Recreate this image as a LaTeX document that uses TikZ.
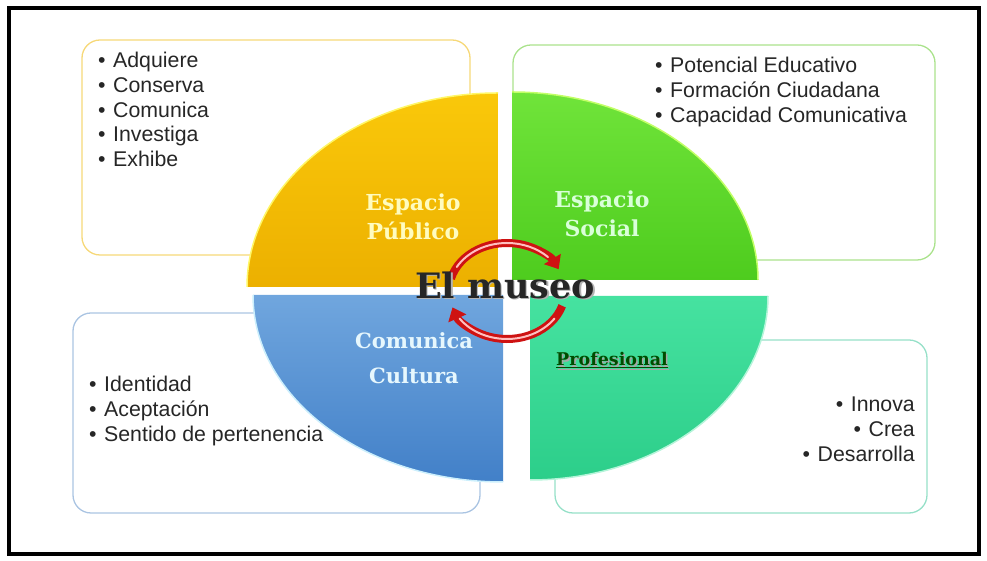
\documentclass[tikz,border=0pt]{standalone}
\usepackage{fontspec}
\setmainfont{Liberation Sans}
\newfontfamily\headfont{DejaVu Serif}
\usetikzlibrary{arrows.meta}

\definecolor{pubtop}{RGB}{250,200,10}
\definecolor{pubbot}{RGB}{236,176,0}
\definecolor{publine}{RGB}{246,216,120}
\definecolor{soctop}{RGB}{112,228,58}
\definecolor{socbot}{RGB}{78,204,30}
\definecolor{socline}{RGB}{170,226,140}
\definecolor{cultop}{RGB}{112,166,222}
\definecolor{culbot}{RGB}{66,128,200}
\definecolor{culline}{RGB}{170,196,226}
\definecolor{protop}{RGB}{70,226,160}
\definecolor{probot}{RGB}{44,206,138}
\definecolor{proline}{RGB}{150,224,200}
\definecolor{arrowred}{RGB}{206,18,18}

\newcommand\bul{\makebox[15pt][l]{•}}
% text with a soft offset copy behind it
\newcommand\dropped[2]{\rlap{\hspace{1.5pt}\raisebox{-1.5pt}{\color{#1}#2}}#2}

\begin{document}
\begin{tikzpicture}[x=1pt, y=1pt,
    itembox/.style={draw, line width=1.3pt, rounded corners=18pt, inner sep=0pt},
    item/.style={font=\fontsize{21.3}{25}\selectfont, inner sep=0pt, text=black!85},
    head/.style={font=\headfont\bfseries\fontsize{22}{29}\selectfont, align=center, inner sep=0pt},
    turn/.style={line width=8pt, draw=arrowred, -{Triangle[width=19pt,length=12pt]}},
  ]
  \useasboundingbox (0,0) rectangle (987,561);
  \draw[line width=4.5pt] (9,7) rectangle (979,553);

  % text boxes behind the quarters
  \node[itembox, draw=publine, minimum width=388pt, minimum height=215pt] (pubbox) at (276,413.5) {};
  \node[itembox, draw=socline, minimum width=422pt, minimum height=215pt] (socbox) at (724,408.5) {};
  \node[itembox, draw=culline, minimum width=407pt, minimum height=200pt] (culbox) at (276.5,148) {};
  \node[itembox, draw=proline, minimum width=372pt, minimum height=173pt] (probox) at (741,134.5) {};

  % the four quarters
  \shade[top color=pubtop, bottom color=pubbot] (498,274) -- (247,274)
    arc[start angle=180, end angle=90, x radius=251, y radius=194] -- cycle;
  \draw[line width=1.5pt, yellow!60!white] (247,274)
    arc[start angle=180, end angle=90, x radius=251, y radius=194];
  \shade[top color=soctop, bottom color=socbot] (512,281) -- (512,469)
    arc[start angle=90, end angle=0, x radius=246, y radius=188] -- cycle;
  \draw[line width=1.5pt, green!40!yellow!60!white] (512,469)
    arc[start angle=90, end angle=0, x radius=246, y radius=188];
  \shade[top color=cultop, bottom color=culbot] (503,266) -- (253,266)
    arc[start angle=180, end angle=270, x radius=250, y radius=187] -- cycle;
  \draw[line width=1.5pt, cyan!20!white] (253,266)
    arc[start angle=180, end angle=270, x radius=250, y radius=187];
  \shade[top color=protop, bottom color=probot] (530,265) -- (768,265)
    arc[start angle=0, end angle=-90, x radius=238, y radius=184] -- cycle;
  \draw[line width=1.5pt, protop!40!white] (768,265)
    arc[start angle=0, end angle=-90, x radius=238, y radius=184];

  % quarter titles
  \node[head, text=yellow!25!white] (pubhead) at (413,344) {Espacio\\Público};
  \node[head, text=green!15!white] (sochead) at (602,347) {Espacio\\Social};
  \node[head, text=cyan!10!white, font=\headfont\bfseries\fontsize{21}{35}\selectfont] (culhead) at (414,203) {Comunica\\Cultura};
  \node[head, text=green!30!black, font=\headfont\bfseries\fontsize{17.5}{20}\selectfont] (prohead) at (612,200) {\dropped{black!35}{\underline{Profesional}}};

  % turning arrows round the centre
  \coordinate (hub) at (507,270);
  \draw[turn] ([shift={(165:58pt and 48pt)}]hub)
    arc[start angle=165, end angle=27, x radius=58, y radius=48];
  \draw[turn] ([shift={(-18:58pt and 48pt)}]hub)
    arc[start angle=-18, end angle=-160, x radius=58, y radius=48];
  \draw[line width=2pt, red!25!white, line cap=round] ([shift={(150:58pt and 48pt)}]hub)
    arc[start angle=150, end angle=45, x radius=58, y radius=48];
  \draw[line width=2pt, red!25!white, line cap=round] ([shift={(-35:58pt and 48pt)}]hub)
    arc[start angle=-35, end angle=-145, x radius=58, y radius=48];

  \node[head, text=black!85, font=\headfont\bfseries\fontsize{35}{40}\selectfont] (museo) at (505,275) {\dropped{black!30}{El museo}};

  % bullet lists
  \foreach \t [count=\i] in {Adquiere, Conserva, Comunica, Investiga, Exhibe}
    \node[item, anchor=base west] (pub\i) at (98,518-24.75*\i) {\bul\t};
  \foreach \t [count=\i] in {Potencial Educativo, Formación Ciudadana, Capacidad Comunicativa}
    \node[item, anchor=base west] (soc\i) at (655,513-25*\i) {\bul\t};
  \foreach \t [count=\i] in {Identidad, Aceptación, Sentido de pertenencia}
    \node[item, anchor=base west] (cul\i) at (89,194-25*\i) {\bul\t};
  \foreach \t [count=\i] in {Innova, Crea, Desarrolla}
    \node[item, anchor=base east] (pro\i) at (915,174-25*\i) {\bul\t};
\end{tikzpicture}
\end{document}
